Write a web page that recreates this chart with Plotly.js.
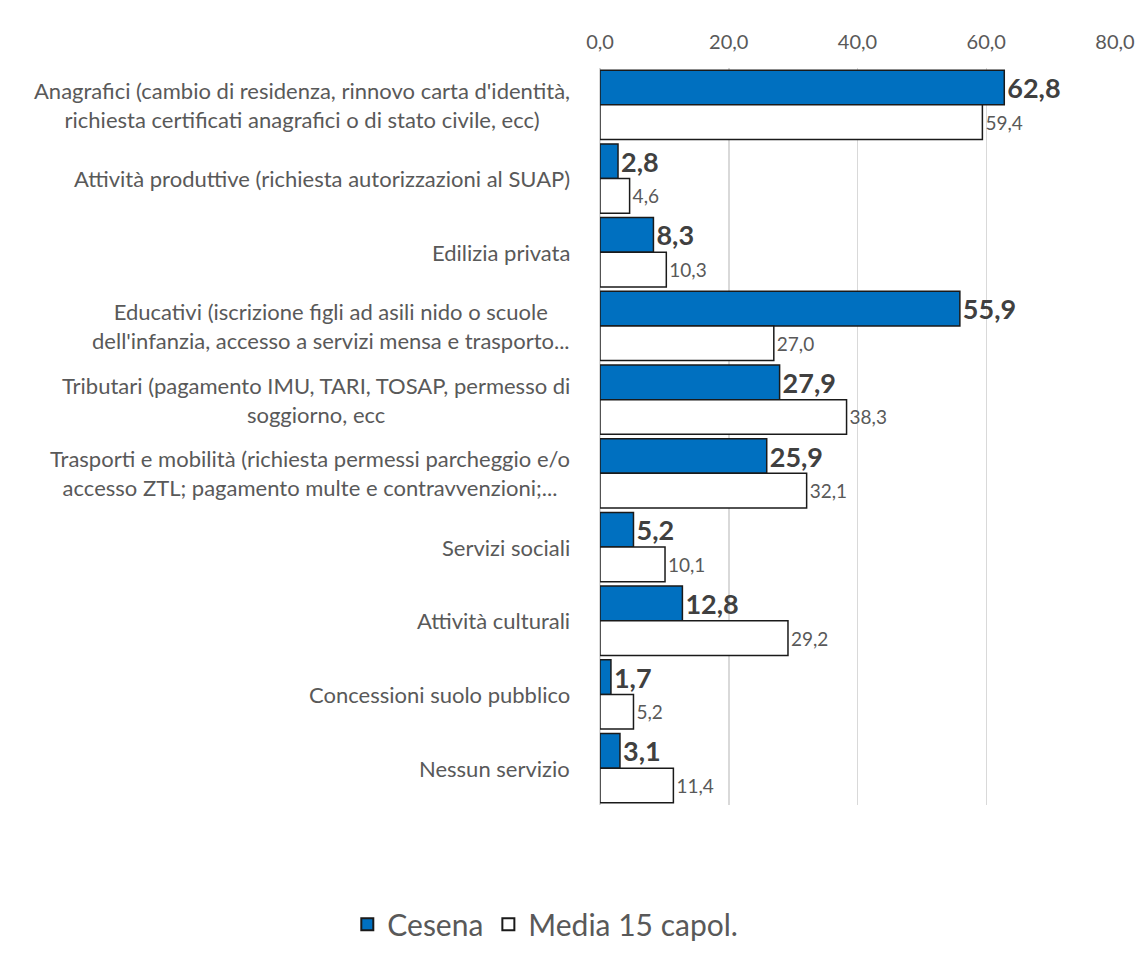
<!DOCTYPE html>
<html>
<head>
<meta charset="utf-8">
<script src="https://cdn.plot.ly/plotly-3.0.1.min.js"></script>
<style>html,body{margin:0;padding:0;background:#fff;}#chart{width:1148px;height:955px;}</style>
</head>
<body>
<div id="chart"></div>
<script>
const categories = [
  "Anagrafici (cambio di residenza, rinnovo carta d'identità,<br>richiesta certificati anagrafici o di stato civile, ecc)",
  "Attività produttive (richiesta autorizzazioni al SUAP)",
  "Edilizia privata",
  "Educativi (iscrizione figli ad asili nido o scuole<br>dell'infanzia, accesso a servizi mensa e trasporto...",
  "Tributari (pagamento IMU, TARI, TOSAP, permesso di<br>soggiorno, ecc",
  "Trasporti e mobilità (richiesta permessi parcheggio e/o<br>accesso ZTL; pagamento multe e contravvenzioni;...",
  "Servizi sociali",
  "Attività culturali",
  "Concessioni suolo pubblico",
  "Nessun servizio"
];
const cesena = [62.8, 2.8, 8.3, 55.9, 27.9, 25.9, 5.2, 12.8, 1.7, 3.1];
const media15 = [59.4, 4.6, 10.3, 27.0, 38.3, 32.1, 10.1, 29.2, 5.2, 11.4];
const tickValues = [0, 20, 40, 60, 80];
const seriesNames = ["Cesena", "Media 15 capol."];

const fontFam = "Lato, 'Open Sans', sans-serif";

const traces = [
  {
    type: 'bar', orientation: 'h', name: seriesNames[0],
    y: categories, x: cesena,
    marker: {color: '#0070C0', line: {color: '#1a1a1a', width: 1.5}},
    text: cesena, texttemplate: '%{x:.1f}', textposition: 'outside', cliponaxis: false,
    textfont: {family: fontFam, size: 27, color: '#404040', weight: 'bold'}
  },
  {
    type: 'bar', orientation: 'h', name: seriesNames[1],
    y: categories, x: media15,
    marker: {color: '#ffffff', line: {color: '#1a1a1a', width: 1.5}},
    text: media15, texttemplate: '%{x:.1f}', textposition: 'outside', cliponaxis: false,
    textfont: {family: fontFam, size: 19, color: '#595959'}
  }
];

const annotations = categories.map(c => ({
  xref: 'paper', yref: 'y', x: 0, y: c, xanchor: 'right', xshift: -28,
  text: c, showarrow: false, align: 'center',
  font: {family: fontFam, size: 22, color: '#595959'}
}));

const layout = {
  width: 1148, height: 955,
  margin: {l: 600, r: 33, t: 68, b: 150},
  paper_bgcolor: '#ffffff', plot_bgcolor: '#ffffff',
  separators: ',.',
  barmode: 'group', bargap: 0.06, bargroupgap: 0,
  font: {family: fontFam, color: '#595959'},
  xaxis: {
    side: 'top', range: [0, 80], tickvals: tickValues, tickformat: '.1f',
    showgrid: true, gridcolor: '#d9d9d9', gridwidth: 1.5,
    zeroline: true, zerolinecolor: '#d9d9d9', zerolinewidth: 1.5,
    showline: false, ticks: '', ticklabelstandoff: 14,
    tickfont: {family: fontFam, size: 20, color: '#595959'}
  },
  yaxis: {
    autorange: 'reversed', showticklabels: false, showgrid: false, zeroline: false, ticks: ''
  },
  showlegend: true,
  legend: {
    orientation: 'h', xref: 'container', yref: 'container', x: 0.475, y: 0.005,
    xanchor: 'center', yanchor: 'bottom',
    font: {family: fontFam, size: 30, color: '#595959'}, itemsizing: 'constant'
  },
  annotations: annotations
};

Plotly.newPlot('chart', traces, layout, {displayModeBar: false, staticPlot: true});
</script>
</body>
</html>
